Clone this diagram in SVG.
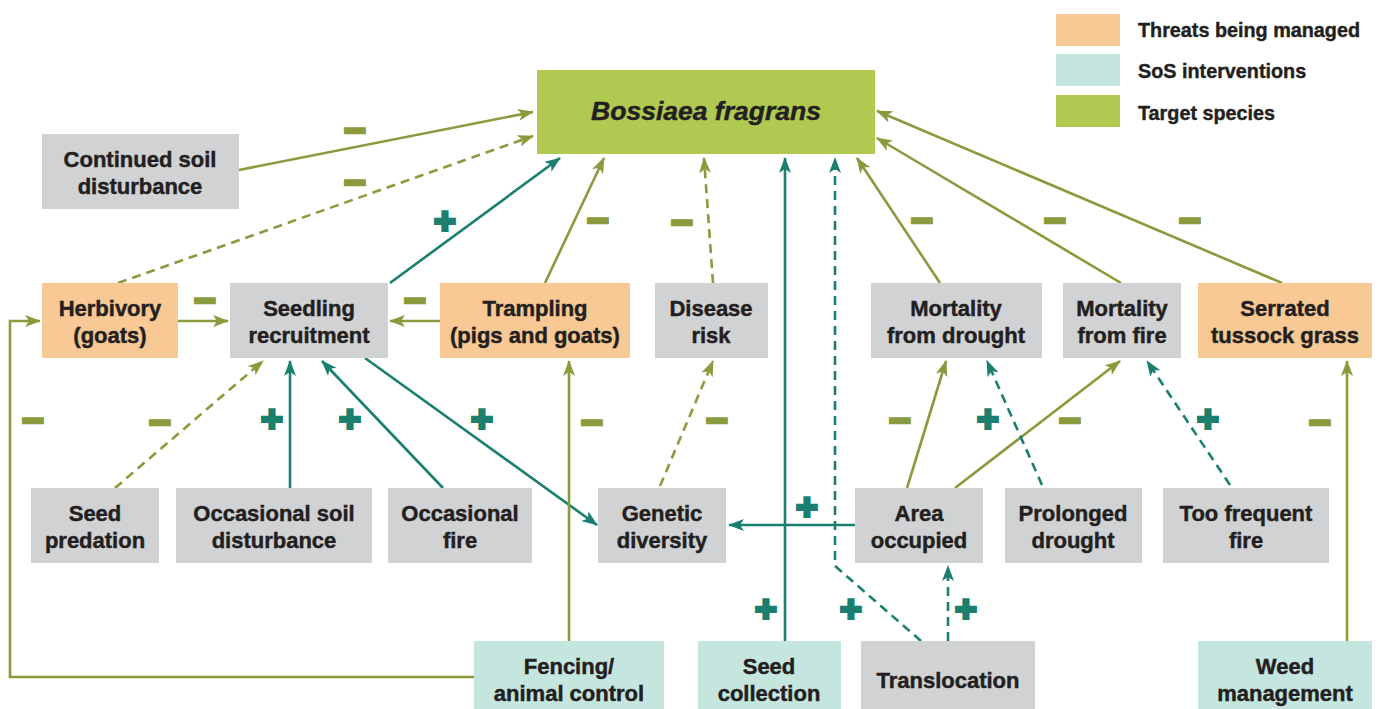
<svg xmlns="http://www.w3.org/2000/svg" width="1382" height="709" viewBox="0 0 1382 709">
<style>
.n text{font-family:"Liberation Sans",Arial,sans-serif;font-weight:bold;font-size:22px;fill:#231f20;stroke:#231f20;stroke-width:0.45;text-anchor:middle}
.g{fill:#d1d2d4}.o{fill:#f8c994}.t{fill:#c5e5df}.s{fill:#afc951}
.lo{stroke:#8a9a3c;stroke-width:2.6;fill:none}
.lt{stroke:#1a7f6e;stroke-width:2.6;fill:none}
.d{stroke-dasharray:9 6}
.mo{marker-end:url(#ao)}.mt{marker-end:url(#at)}
.sg text{font-family:"DejaVu Sans",sans-serif;font-weight:bold;font-size:29px;text-anchor:middle;stroke-width:3.8}
.mi{fill:#8a9a3c;stroke:#8a9a3c}.pl{fill:#1a7f6e;stroke:#1a7f6e}
.lg text{font-family:"Liberation Sans",Arial,sans-serif;font-weight:bold;font-size:19.8px;fill:#231f20;stroke:#231f20;stroke-width:0.4}
</style>
<defs>
<marker id="ao" viewBox="0 0 16 12" refX="15" refY="6" markerWidth="16" markerHeight="12" markerUnits="userSpaceOnUse" orient="auto"><path d="M0,0 L16,6 L0,12 L4,6 z" fill="#8a9a3c"/></marker>
<marker id="at" viewBox="0 0 16 12" refX="15" refY="6" markerWidth="16" markerHeight="12" markerUnits="userSpaceOnUse" orient="auto"><path d="M0,0 L16,6 L0,12 L4,6 z" fill="#1a7f6e"/></marker>
</defs>
<rect width="1382" height="709" fill="#fff"/>

<g id="legend" class="lg">
<rect x="1056" y="14" width="64" height="32" class="o"/>
<rect x="1056" y="54" width="64" height="32" class="t"/>
<rect x="1056" y="95" width="64" height="32" class="s"/>
<text x="1138" y="37">Threats being managed</text>
<text x="1138" y="78">SoS interventions</text>
<text x="1138" y="120">Target species</text>
</g>

<g id="connectors">
<line class="lo mo" x1="239" y1="170" x2="533" y2="112"/>
<line class="lo d mo" x1="118" y1="283" x2="533" y2="136"/>
<line class="lo mo" x1="178" y1="321" x2="228" y2="321"/>
<line class="lo mo" x1="440" y1="321" x2="390" y2="321"/>
<line class="lt mt" x1="390" y1="283" x2="560" y2="158"/>
<line class="lo mo" x1="545" y1="283" x2="604" y2="158"/>
<line class="lo d mo" x1="713" y1="283" x2="704" y2="158"/>
<line class="lt mt" x1="785" y1="641" x2="785" y2="158"/>
<polyline class="lt d mt" points="921,641 835,566 835,158"/>
<line class="lo mo" x1="940" y1="283" x2="857" y2="158"/>
<line class="lo mo" x1="1121" y1="283" x2="877" y2="138"/>
<line class="lo mo" x1="1282" y1="283" x2="877" y2="111"/>
<line class="lo d mo" x1="115" y1="488" x2="263" y2="361"/>
<line class="lt mt" x1="290" y1="488" x2="290" y2="361"/>
<line class="lt mt" x1="443" y1="488" x2="322" y2="361"/>
<line class="lt mt" x1="365" y1="358" x2="597" y2="525"/>
<line class="lo mo" x1="569" y1="641" x2="569" y2="361"/>
<polyline class="lo mo" points="474,677 10,677 10,321 40,321"/>
<line class="lo d mo" x1="660" y1="486" x2="713" y2="361"/>
<line class="lt mt" x1="855" y1="525" x2="729" y2="525"/>
<line class="lo mo" x1="907" y1="488" x2="946" y2="361"/>
<line class="lo mo" x1="955" y1="488" x2="1120" y2="361"/>
<line class="lt d mt" x1="1042" y1="485" x2="987" y2="361"/>
<line class="lt d mt" x1="1230" y1="485" x2="1147" y2="361"/>
<line class="lt d mt" x1="948" y1="641" x2="948" y2="566"/>
<line class="lo mo" x1="1347" y1="641" x2="1347" y2="361"/>
</g>

<g id="signs" class="sg">
<text class="mi" x="355" y="140">−</text>
<text class="mi" x="355" y="192">−</text>
<text class="mi" x="205" y="310">−</text>
<text class="mi" x="415" y="310">−</text>
<text class="pl" x="445" y="230">+</text>
<text class="mi" x="598" y="230">−</text>
<text class="mi" x="682" y="232">−</text>
<text class="mi" x="922" y="230">−</text>
<text class="mi" x="1055" y="230">−</text>
<text class="mi" x="1190" y="230">−</text>
<text class="mi" x="33" y="430">−</text>
<text class="mi" x="160" y="432">−</text>
<text class="pl" x="272" y="428">+</text>
<text class="pl" x="350" y="428">+</text>
<text class="pl" x="482" y="428">+</text>
<text class="mi" x="592" y="432">−</text>
<text class="mi" x="717" y="430">−</text>
<text class="mi" x="900" y="430">−</text>
<text class="pl" x="988" y="428">+</text>
<text class="mi" x="1070" y="430">−</text>
<text class="pl" x="1208" y="428">+</text>
<text class="mi" x="1320" y="432">−</text>
<text class="pl" x="807" y="516">+</text>
<text class="pl" x="766" y="618">+</text>
<text class="pl" x="851" y="618">+</text>
<text class="pl" x="966" y="618">+</text>
</g>

<g id="bossiaea" class="n"><rect x="537" y="70" width="338" height="84" class="s"/><text x="706" y="120" style="font-style:italic;font-size:26.5px">Bossiaea fragrans</text></g>
<g id="continued-soil" class="n"><rect x="42" y="134" width="197" height="75" class="g"/><text x="140" y="167">Continued soil</text><text x="140" y="194">disturbance</text></g>
<g id="herbivory" class="n"><rect x="42" y="283" width="136" height="75" class="o"/><text x="110" y="316">Herbivory</text><text x="110" y="343">(goats)</text></g>
<g id="seedling" class="n"><rect x="230" y="283" width="158" height="75" class="g"/><text x="309" y="316">Seedling</text><text x="309" y="343">recruitment</text></g>
<g id="trampling" class="n"><rect x="440" y="283" width="190" height="75" class="o"/><text x="535" y="316">Trampling</text><text x="535" y="343">(pigs and goats)</text></g>
<g id="disease" class="n"><rect x="655" y="283" width="113" height="75" class="g"/><text x="711" y="316">Disease</text><text x="711" y="343">risk</text></g>
<g id="mort-drought" class="n"><rect x="871" y="283" width="171" height="75" class="g"/><text x="956" y="316">Mortality</text><text x="956" y="343">from drought</text></g>
<g id="mort-fire" class="n"><rect x="1063" y="283" width="118" height="75" class="g"/><text x="1122" y="316">Mortality</text><text x="1122" y="343">from fire</text></g>
<g id="serrated" class="n"><rect x="1198" y="283" width="174" height="75" class="o"/><text x="1285" y="316">Serrated</text><text x="1285" y="343">tussock grass</text></g>
<g id="seed-predation" class="n"><rect x="31" y="488" width="128" height="75" class="g"/><text x="95" y="521">Seed</text><text x="95" y="548">predation</text></g>
<g id="occ-soil" class="n"><rect x="176" y="488" width="196" height="75" class="g"/><text x="274" y="521">Occasional soil</text><text x="274" y="548">disturbance</text></g>
<g id="occ-fire" class="n"><rect x="388" y="488" width="144" height="75" class="g"/><text x="460" y="521">Occasional</text><text x="460" y="548">fire</text></g>
<g id="genetic" class="n"><rect x="598" y="488" width="128" height="75" class="g"/><text x="662" y="521">Genetic</text><text x="662" y="548">diversity</text></g>
<g id="area" class="n"><rect x="855" y="488" width="128" height="75" class="g"/><text x="919" y="521">Area</text><text x="919" y="548">occupied</text></g>
<g id="prolonged" class="n"><rect x="1005" y="488" width="137" height="75" class="g"/><text x="1073" y="521">Prolonged</text><text x="1073" y="548">drought</text></g>
<g id="too-frequent" class="n"><rect x="1163" y="488" width="166" height="75" class="g"/><text x="1246" y="521">Too frequent</text><text x="1246" y="548">fire</text></g>
<g id="fencing" class="n"><rect x="474" y="641" width="190" height="68" class="t"/><text x="569" y="674">Fencing/</text><text x="569" y="701">animal control</text></g>
<g id="seed-collection" class="n"><rect x="698" y="641" width="143" height="68" class="t"/><text x="769" y="674">Seed</text><text x="769" y="701">collection</text></g>
<g id="translocation" class="n"><rect x="861" y="641" width="174" height="68" class="g"/><text x="948" y="688">Translocation</text></g>
<g id="weed" class="n"><rect x="1198" y="641" width="174" height="68" class="t"/><text x="1285" y="674">Weed</text><text x="1285" y="701">management</text></g>
</svg>
